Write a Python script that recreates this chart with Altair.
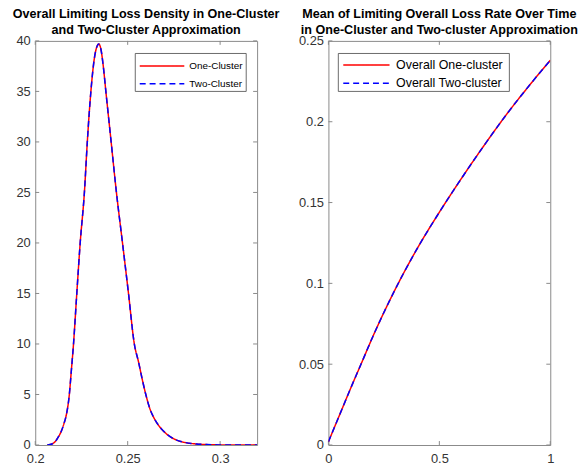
import altair as alt
import pandas as pd

# ---- data ----
density_x = [0.2065, 0.2090, 0.2109, 0.2125, 0.2141, 0.2155, 0.2168, 0.2184, 0.2195,
             0.2207, 0.2225, 0.2243, 0.2266, 0.2282, 0.2301, 0.2320, 0.2335, 0.2344,
             0.2355, 0.2368, 0.2382, 0.2410, 0.2439, 0.2472, 0.2504, 0.2536, 0.2559,
             0.2580, 0.2599, 0.2620, 0.2643, 0.2665, 0.2687, 0.2720, 0.2760, 0.2810,
             0.2872, 0.2930, 0.2990, 0.3100, 0.3200]
density_y = [0.0, 0.10, 0.36, 0.80, 1.37, 2.10, 2.97, 4.93, 7.30,
             10.0, 15.07, 19.97, 25.03, 30.1, 35.0, 38.3, 39.5, 39.7,
             39.2, 37.5, 35.0, 30.1, 25.03, 20.0, 15.07, 10.0, 8.2,
             6.4, 4.93, 3.6, 2.65, 2.0, 1.5, 0.95, 0.52, 0.25,
             0.10, 0.04, 0.01, 0.0, 0.0]

time_t = [0.0, 0.05, 0.1, 0.15, 0.2, 0.3, 0.4, 0.5, 0.6, 0.7, 0.8, 0.9, 1.0]
mean_rate = [0.002, 0.0185, 0.035, 0.051, 0.067, 0.096, 0.1215, 0.144, 0.165,
             0.185, 0.204, 0.2215, 0.238]

left_series = ["One-Cluster", "Two-Cluster"]
right_series = ["Overall One-cluster", "Overall Two-cluster"]

left_xticks = [0.2, 0.25, 0.3]
left_yticks = [0, 5, 10, 15, 20, 25, 30, 35, 40]
right_xticks = [0, 0.5, 1]
right_yticks = [0, 0.05, 0.1, 0.15, 0.2, 0.25]

left_title = ["Overall Limiting Loss Density in One-Cluster", "and Two-Cluster Approximation"]
right_title = ["Mean of Limiting Overall Loss Rate Over Time",
               "in One-Cluster and Two-cluster Approximation"]

# ---- styling ----
W, H = 224, 408
AXIS = "#8a8a8a"
LABEL = "#333333"
FONT = "Liberation Sans"
TICK = 4
COLORS = ["#ff0000", "#0000ff"]
DASHES = [[1, 0], [6, 4]]


def make_df(xv, yv, names):
    rows = []
    for n in names:
        for a, b in zip(xv, yv):
            rows.append({"x": a, "y": b, "series": n})
    return pd.DataFrame(rows)


def legend_layers(names, box, line_x, text_x, rows_y, fsize):
    one = pd.DataFrame({"a": [0]})
    layers = [
        alt.Chart(one).mark_rect(fill="white", stroke="#444444", strokeWidth=0.8).encode(
            x=alt.value(box[0]), x2=alt.value(box[1]), y=alt.value(box[2]), y2=alt.value(box[3]))
    ]
    for i, n in enumerate(names):
        layers.append(
            alt.Chart(one).mark_rule(color=COLORS[i], strokeDash=DASHES[i], strokeWidth=1.5).encode(
                x=alt.value(line_x[0]), x2=alt.value(line_x[1]), y=alt.value(rows_y[i]))
        )
        layers.append(
            alt.Chart(one).mark_text(align="left", baseline="middle", font=FONT,
                                     fontSize=fsize, color="#000000").encode(
                x=alt.value(text_x), y=alt.value(rows_y[i]), text=alt.value(n))
        )
    return layers


def panel(df, names, xdom, ydom, xticks, yticks, title, yext, leg):
    xs = alt.Scale(domain=xdom, nice=False, zero=False)
    ys = alt.Scale(domain=ydom, nice=False, zero=False)
    xaxis = alt.Axis(values=xticks, format="~g", ticks=False, domain=False, grid=False,
                     labelFontSize=13, labelColor=LABEL, labelFont=FONT, labelPadding=8,
                     title=None, labelFlush=False)
    yaxis = alt.Axis(values=yticks, format="~g", ticks=False, domain=False, grid=False,
                     labelFontSize=13, labelColor=LABEL, labelFont=FONT, labelPadding=5,
                     title=None, minExtent=yext, maxExtent=yext, labelFlush=False)
    lines = alt.Chart(df).mark_line(strokeWidth=1.5, clip=True, interpolate="monotone").encode(
        x=alt.X("x:Q", scale=xs, axis=xaxis),
        y=alt.Y("y:Q", scale=ys, axis=yaxis),
        color=alt.Color("series:N", scale=alt.Scale(domain=names, range=COLORS), legend=None),
        strokeDash=alt.StrokeDash("series:N", scale=alt.Scale(domain=names, range=DASHES),
                                  legend=None),
    )
    ydf = pd.DataFrame({"v": yticks})
    xdf = pd.DataFrame({"v": xticks})
    yt_l = alt.Chart(ydf).mark_rule(color=AXIS, strokeWidth=1).encode(
        y=alt.Y("v:Q", scale=ys, axis=yaxis), x=alt.value(0), x2=alt.value(TICK))
    yt_r = alt.Chart(ydf).mark_rule(color=AXIS, strokeWidth=1).encode(
        y=alt.Y("v:Q", scale=ys, axis=yaxis), x=alt.value(W - TICK), x2=alt.value(W))
    xt_b = alt.Chart(xdf).mark_rule(color=AXIS, strokeWidth=1).encode(
        x=alt.X("v:Q", scale=xs, axis=xaxis), y=alt.value(H - TICK), y2=alt.value(H))
    xt_t = alt.Chart(xdf).mark_rule(color=AXIS, strokeWidth=1).encode(
        x=alt.X("v:Q", scale=xs, axis=xaxis), y=alt.value(0), y2=alt.value(TICK))
    return alt.layer(yt_l, yt_r, xt_b, xt_t, lines, *leg).properties(
        width=W, height=H,
        title=alt.TitleParams(text=title, fontSize=12.7, font=FONT, fontWeight="bold",
                              color="#000000", anchor="middle", frame="group",
                              offset=-1.5, lineHeight=16),
    )


left_leg = legend_layers(left_series, (101, 213, 12.7, 51), (105.5, 150.5), 155.5,
                         (25.3, 43.3), 10)
right_leg = legend_layers(right_series, (10, 182.7, 12.7, 51), (15, 61.7), 68.3,
                          (24.3, 42.7), 12.5)

left = panel(make_df(density_x, density_y, left_series), left_series,
             [0.2, 0.32], [0, 40], left_xticks, left_yticks, left_title, 26, left_leg)
right = panel(make_df(time_t, mean_rate, right_series), right_series,
              [0, 1], [0, 0.25], right_xticks, right_yticks, right_title, 36, right_leg)

chart = alt.hconcat(left, right, spacing=72, bounds="flush").resolve_scale(
    color="independent", strokeDash="independent", x="independent", y="independent"
).configure_view(
    stroke=AXIS, strokeWidth=1
).properties(padding={"left": 0.5, "top": -3, "right": 0, "bottom": 0})

chart.save("out.html", embed_options={"renderer": "svg", "actions": False})
